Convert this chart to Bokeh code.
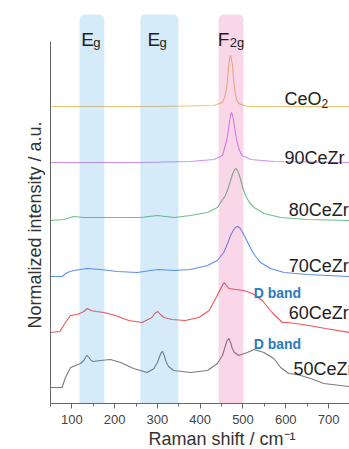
from bokeh.plotting import figure
from bokeh.models import Label, SingleIntervalTicker, Title
from bokeh.embed import file_html
from bokeh.resources import INLINE

# ---- data (Raman shift in cm-1, relative intensity above each baseline) ----
ceo2_x = [50, 300, 432, 452, 457, 462, 465, 467, 469, 471, 473, 476, 478, 481, 485, 490, 510, 600, 749]
ceo2_y = [0, 0, 1, 4, 9, 19, 32, 43, 49, 51, 47, 39, 27, 16, 7, 3, 0, 0, 0]

ce90_x = [50, 261, 377, 432, 452, 462, 466, 469, 471, 473, 475, 477, 479, 483, 487, 492, 498, 518, 572, 749]
ce90_y = [0, 0, 1, 3, 7, 22, 33, 42, 47, 50, 48, 44, 39, 28, 19, 12, 7, 3, 1, 0]

ce80_x = [50, 81, 104, 128, 175, 222, 261, 300, 339, 377, 417, 440, 459, 465, 471, 477, 481, 484, 487, 491, 495, 500, 506, 515, 526, 549, 588, 650, 749]
ce80_y = [0, 1, 4, 3, 3, 3, 3, 5, 3, 5, 8, 13, 25, 32, 40, 48, 51, 52, 50, 46, 40, 32, 25, 18, 13, 7, 3, 1, 0]

ce70_x = [50, 77, 89, 104, 136, 167, 206, 253, 284, 303, 339, 377, 417, 440, 455, 465, 471, 477, 482, 487, 492, 498, 504, 510, 518, 526, 541, 564, 596, 650, 749]
ce70_y = [0, 0, 4, 6, 8, 7, 5, 4, 6, 7, 6, 7, 11, 16, 24, 34, 41, 46, 49, 50, 49, 45, 40, 35, 28, 22, 14, 8, 4, 2, 0]

ce60_x = [50, 72, 85, 97, 113, 128, 136, 145, 156, 175, 202, 233, 264, 287, 294, 301, 307, 315, 334, 365, 397, 421, 436, 448, 453, 456, 461, 467, 483, 502, 522, 545, 568, 592, 604, 623, 654, 693, 750]
ce60_y = [0, 1, 10, 17, 18, 21, 24, 22, 21, 20, 17, 12, 10, 15, 19, 21, 18, 15, 13, 12, 15, 22, 34, 44, 48, 50, 47, 44, 43, 42, 39, 32, 20, 10, 10, 9, 7, 4, 0]

ce50_x = [50, 77, 85, 97, 120, 128, 133, 136, 140, 145, 150, 167, 190, 214, 244, 276, 292, 300, 305, 309, 312, 316, 320, 326, 338, 377, 417, 440, 452, 459, 463, 467, 471, 475, 480, 490, 510, 526, 549, 572, 588, 607, 625, 635, 658, 689, 749]
ce50_y = [0, 0, 10, 20, 24, 27, 31, 32, 30, 27, 26, 27, 28, 25, 19, 15, 19, 25, 31, 35, 36, 32, 26, 21, 17, 15, 17, 24, 32, 42, 47, 49, 45, 39, 35, 32, 35, 38, 35, 29, 20, 14, 13, 12, 9, 4, 1]

series_x = [ceo2_x, ce90_x, ce80_x, ce70_x, ce60_x, ce50_x]
series_y = [ceo2_y, ce90_y, ce80_y, ce70_y, ce60_y, ce50_y]
offsets = [297, 241, 183, 127, 71, 16]
colors = ["#efc27a", "#cf8ef0", "#6cc08a", "#5b8ff0", "#f05555", "#7a7a7a"]
names = ["CeO", "90CeZr", "80CeZr", "70CeZr", "60CeZr", "50CeZr"]
name_x = [597, 597, 607, 607, 607, 618]
name_y = [305, 246, 194, 138, 91, 35]

band_left = [118, 260, 443]
band_right = [176, 349, 501]
band_colors = ["#3399e6", "#3399e6", "#e0338a"]
band_main = ["E", "E", "F"]
band_sub = ["g", "g", "2g"]
band_label_x = [122, 277, 441]

dband_x = [525, 525]
dband_y = [111, 60]

FONT = "Liberation Sans"

p = figure(width=349, height=449, x_range=(50, 749), y_range=(0, 391),
           output_backend="svg", toolbar_location=None,
           min_border_left=50, min_border_right=0, min_border_top=12, min_border_bottom=46)
p.outline_line_color = None
p.xgrid.visible = False
p.ygrid.visible = False
p.background_fill_color = "white"

# spectra
for xs, ys, off, c in zip(series_x, series_y, offsets, colors):
    p.line(xs, [v + off for v in ys], line_color=c, line_width=1.1)

# bands (semi transparent, above lines)
p.quad(left=band_left, right=band_right, bottom=[-10] * 3, top=[389] * 3,
       fill_color=band_colors, fill_alpha=0.2, line_color=None, border_radius=5)

# axes
xa = p.xaxis[0]
xa.ticker = SingleIntervalTicker(interval=100, num_minor_ticks=2)
xa.axis_line_color = "#666666"
xa.major_tick_line_color = "#666666"
xa.minor_tick_line_color = "#666666"
xa.major_tick_out = 5
xa.major_tick_in = 0
xa.minor_tick_out = 3
xa.minor_tick_in = 0
xa.major_label_text_font = FONT
xa.major_label_text_font_size = "13px"
xa.major_label_text_color = "#444444"
xa.major_label_standoff = 6

ya = p.yaxis[0]
ya.bounds = (0, 362)
ya.axis_line_color = "#666666"
ya.major_tick_line_color = None
ya.minor_tick_line_color = None
ya.major_label_text_color = None
ya.major_label_text_font_size = "0px"
ya.major_label_standoff = 0

# axis titles
p.add_layout(Title(text="Raman shift / cm\u207b\u00b9", align="left", offset=98, standoff=0,
                   text_font=FONT, text_font_size="18px", text_font_style="normal",
                   text_color="#333333"), "below")
p.add_layout(Title(text="Normalized intensity / a.u.", align="left", offset=75, standoff=0,
                   text_font=FONT, text_font_size="18px", text_font_style="normal",
                   text_color="#333333"), "left")

# series names
for n, x, y in zip(names, name_x, name_y):
    p.add_layout(Label(x=x, y=y, text=n, text_font=FONT, text_font_size="18px",
                       text_color="#222222", text_baseline="alphabetic"))
p.add_layout(Label(x=name_x[0], y=name_y[0] - 5, x_offset=37, text="2", text_font=FONT,
                   text_font_size="12px", text_color="#222222", text_baseline="alphabetic"))

# band labels
for m, s, x in zip(band_main, band_sub, band_label_x):
    p.add_layout(Label(x=x, y=364, text=m, text_font=FONT, text_font_size="19px",
                       text_color="#222222", text_baseline="alphabetic"))
    p.add_layout(Label(x=x, y=361, x_offset=12, text=s, text_font=FONT, text_font_size="13px",
                       text_color="#222222", text_baseline="alphabetic"))

# D band labels
for x, y in zip(dband_x, dband_y):
    p.add_layout(Label(x=x, y=y, text="D band", text_font=FONT, text_font_size="14px",
                       text_font_style="bold", text_color="#2a7cc4", text_baseline="alphabetic"))

open("out.html", "w").write(file_html(p, INLINE))
